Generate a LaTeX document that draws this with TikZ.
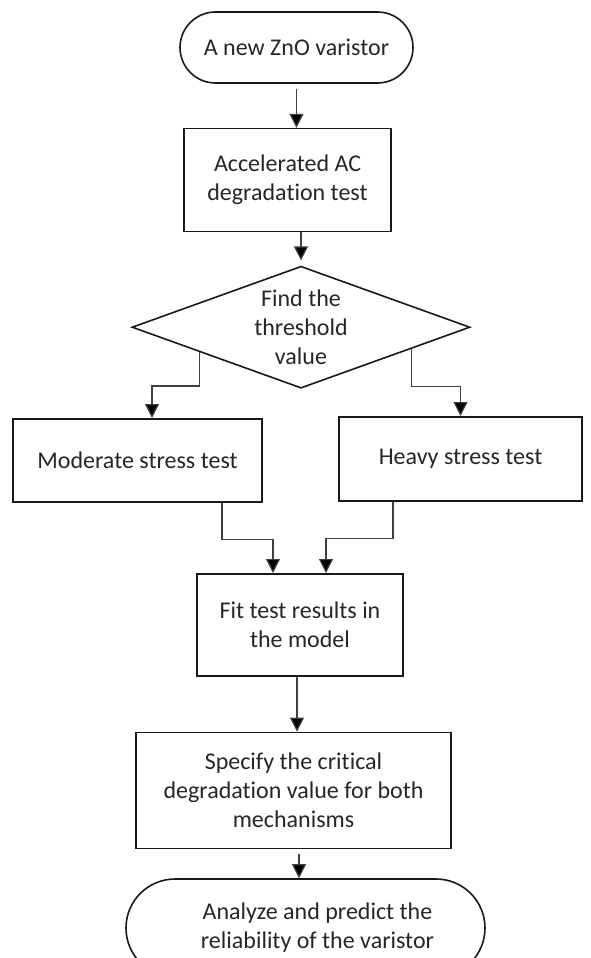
\documentclass[tikz,border=0pt]{standalone}
\usepackage{fontspec}
\setmainfont{Carlito}[Ligatures={NoCommon}]
\usetikzlibrary{positioning,shapes.geometric,arrows.meta,calc}

\begin{document}
\begin{tikzpicture}[
    font=\fontsize{24}{29}\selectfont,
    terminal/.style={draw=black!90, line width=1.6pt, text=black!85,
                     align=center, inner sep=0pt},
    process/.style={draw=black!90, line width=1.6pt, text=black!85,
                    align=center, inner sep=0pt},
    decision/.style={diamond, draw=black!90, line width=1.6pt, text=black!85,
                     align=center, inner sep=0pt, shape aspect=2.77},
    conn/.style={draw=black!75, line width=1.2pt,
                 -{Triangle[width=14pt,length=14pt,fill=black]}}
  ]
   \useasboundingbox (0,0) rectangle (590pt,-958pt);
   \clip (0,0) rectangle (590pt,-958pt);
   \node[terminal,
          rounded corners=35.5pt,
          minimum width=233pt,
          minimum height=71pt] (start) at (296.5pt,-47.5pt) {A new ZnO varistor};
   \node[process,
          below=44pt of start,
          xshift=-9pt,
          minimum width=207pt,
          minimum height=103pt] (accel) {Accelerated AC\\degradation test};
   \node[decision,
          below=33pt of accel,
          xshift=13.5pt,
          minimum width=338pt,
          minimum height=122pt] (dia) {Find the\\threshold\\value};
   \node[process,
          below=29pt of dia,
          xshift=-163.5pt,
          minimum width=249pt,
          minimum height=83pt] (moder) {Moderate stress test};
   \node[process,
          below=27pt of dia,
          xshift=159.5pt,
          minimum width=243pt,
          minimum height=84pt] (heavy) {Heavy stress test};
   \node[process,
          below=184pt of dia,
          xshift=-1pt,
          minimum width=206pt,
          minimum height=102pt] (fit) {Fit test results in\\the model};
   \node[process,
          below=55pt of fit,
          xshift=-6.5pt,
          minimum width=315pt,
          minimum height=116pt] (spec) {Specify the critical\\degradation value for both\\mechanisms};
   \node[terminal,
          below=29pt of spec,
          xshift=12pt,
          rounded corners=49pt,
          minimum width=359pt,
          minimum height=98pt] (end) {\hspace*{24pt}Analyze and predict the\\\hspace*{24pt}reliability of the varistor};
   % connect the boxes
   \coordinate (dl) at ($(dia.west)!0.4!(dia.south)$);
   \coordinate (dr) at ($(dia.east)!0.35!(dia.south)$);
   \draw[conn] ([yshift=-5pt]start.south) -- (start.south |- accel.north);
   \draw[conn] (accel.south -| dia.north) -- ([yshift=5pt]dia.north);
   \draw[conn] (dl) -- ++(0,-34pt) -| ([xshift=14.5pt]moder.north);
   \draw[conn] (dr) -- ++(0,-38pt) -| (heavy.north);
   \draw[conn] ([xshift=84.5pt]moder.south) -- ++(0,-37pt) -| ([xshift=-27pt]fit.north);
   \draw[conn] ([xshift=-67.5pt]heavy.south) -- ++(0,-37pt) -| ([xshift=26pt]fit.north);
   \draw[conn] ([xshift=-3pt]fit.south) -- ([xshift=-3pt]fit.south |- spec.north);
   \draw[conn] ([xshift=5.5pt,yshift=-5pt]spec.south) -- ([xshift=5.5pt]spec.south |- end.north);
\end{tikzpicture}
\end{document}
